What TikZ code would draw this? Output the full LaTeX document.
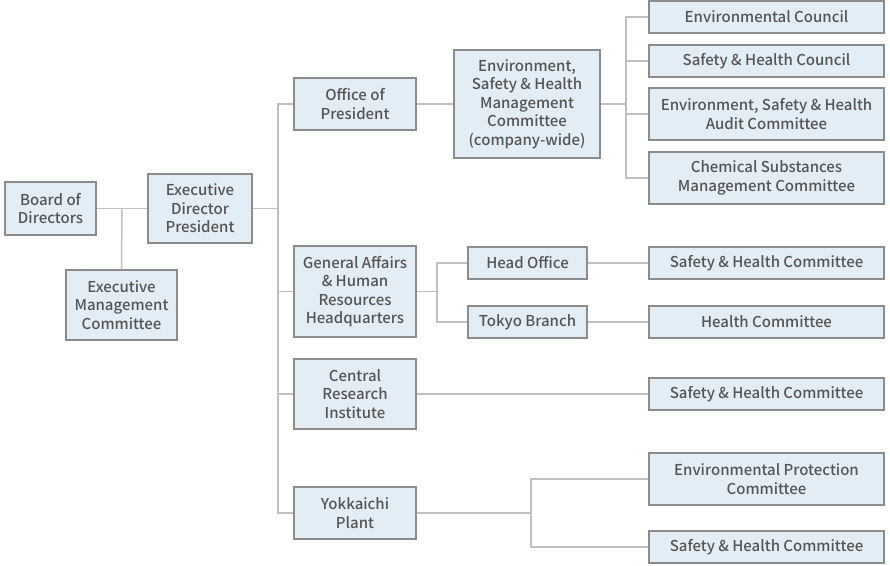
\documentclass[tikz,border=0pt]{standalone}
\usepackage{fontspec}
\setmainfont{Noto Sans CJK JP Medium}
\definecolor{boxfill}{HTML}{E3EDF6}
\definecolor{boxdraw}{HTML}{8C8C8C}
\definecolor{txt}{HTML}{555555}
\definecolor{ln}{HTML}{C0C0C0}
\begin{document}
\begin{tikzpicture}[x=1pt,y=-1pt,
  box/.style={draw=boxdraw,line width=1.5pt,fill=boxfill,text=txt,align=center,
    inner sep=0pt,font=\fontsize{15}{18.5}\selectfont},
  conn/.style={draw=ln,line width=1.5pt}]
\useasboundingbox (0,0) rectangle (890,565);
% nodes
\node[box,minimum width=91,minimum height=53] (bod) at (50.5,208.5) {Board of\\Directors};
\node[box,minimum width=104,minimum height=69] (edp) at (200,208.5) {Executive\\Director\\President};
\node[box,minimum width=111,minimum height=70] (emc) at (121.5,305) {Executive\\Management\\Committee};
\node[box,minimum width=122,minimum height=52] (op) at (355,104) {Office of\\President};
\node[box,minimum width=146,minimum height=108] (esh) at (527,104) {Environment,\\Safety \& Health\\Management\\Committee\\(company-wide)};
\node[box,minimum width=235,minimum height=32] (ec) at (766.5,17) {Environmental Council};
\node[box,minimum width=235,minimum height=32] (shcl) at (766.5,61) {Safety \& Health Council};
\node[box,minimum width=235,minimum height=52] (audit) at (766.5,114) {Environment, Safety \& Health\\Audit Committee};
\node[box,minimum width=235,minimum height=52] (chem) at (766.5,178) {Chemical Substances\\Management Committee};
\node[box,minimum width=122,minimum height=91] (ga) at (355,291.5) {General Affairs\\\& Human\\Resources\\Headquarters};
\node[box,minimum width=119,minimum height=32] (ho) at (527.5,263) {Head Office};
\node[box,minimum width=119,minimum height=32] (tb) at (527.5,322) {Tokyo Branch};
\node[box,minimum width=235,minimum height=32] (shc1) at (766.5,263) {Safety \& Health Committee};
\node[box,minimum width=235,minimum height=32] (hc) at (766.5,322) {Health Committee};
\node[box,minimum width=122,minimum height=70] (cri) at (355,394) {Central\\Research\\Institute};
\node[box,minimum width=235,minimum height=32] (shc3) at (766.5,394) {Safety \& Health Committee};
\node[box,minimum width=122,minimum height=52] (yk) at (355,513) {Yokkaichi\\Plant};
\node[box,minimum width=235,minimum height=52] (epc) at (766.5,479) {Environmental Protection\\Committee};
\node[box,minimum width=235,minimum height=32] (shc4) at (766.5,547) {Safety \& Health Committee};
% junctions
\coordinate (j1) at (122,208.5);
\coordinate (t1) at (278,104);
\coordinate (t2) at (278,513);
\coordinate (e1) at (626,104);
\coordinate (g1) at (437,291.5);
\coordinate (y1) at (531,513);
% connectors
\path[conn] (bod.east) -- (edp.west);
\path[conn] (j1) -- (emc.north);
\path[conn] (edp.east) -- (edp.east -| t1);
\path[conn] (op.west) -- (t1) -- (t2) -- (yk.west);
\path[conn] (ga.west) -- (ga.west -| t1);
\path[conn] (cri.west) -- (cri.west -| t1);
\path[conn] (op.east) -- (esh.west);
\path[conn] (esh.east) -- (e1);
\path[conn] (ec.west) -- (ec.west -| e1) -- (chem.west -| e1) -- (chem.west);
\path[conn] (shcl.west) -- (shcl.west -| e1);
\path[conn] (audit.west) -- (audit.west -| e1);
\path[conn] (ga.east) -- (g1);
\path[conn] (ho.west) -- (ho.west -| g1) -- (tb.west -| g1) -- (tb.west);
\path[conn] (ho.east) -- (shc1.west);
\path[conn] (tb.east) -- (hc.west);
\path[conn] (cri.east) -- (shc3.west);
\path[conn] (yk.east) -- (y1);
\path[conn] (epc.west) -- (epc.west -| y1) -- (shc4.west -| y1) -- (shc4.west);
\end{tikzpicture}
\end{document}
